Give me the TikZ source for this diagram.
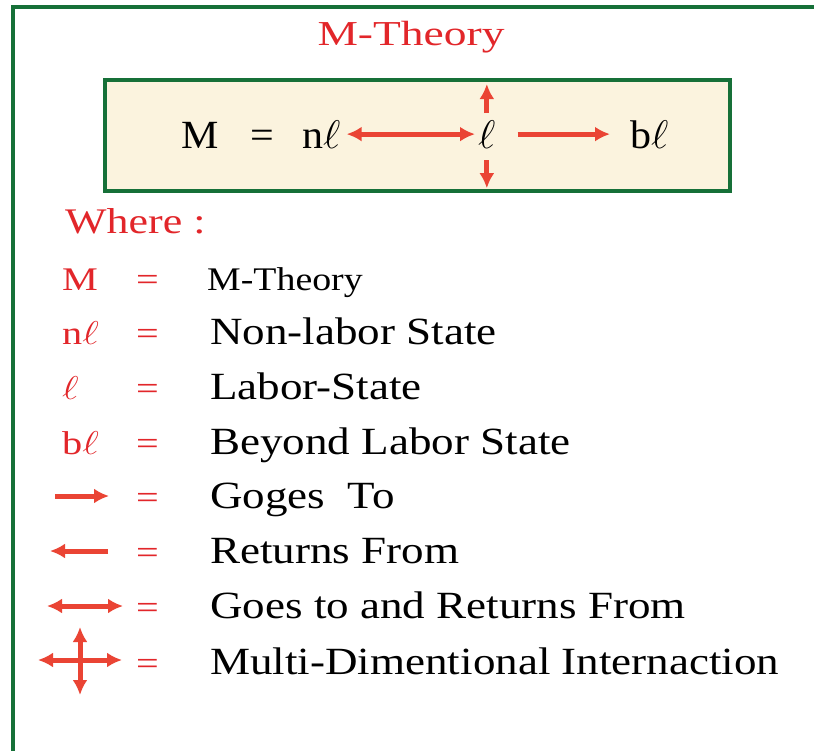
\documentclass[tikz,border=0pt]{standalone}
\usepackage{graphicx}
\usepackage{fontspec}
\setmainfont{Liberation Serif}
\newcommand{\lsym}{\resizebox{!}{.694em}{$\ell$}}
\usetikzlibrary{arrows.meta}
\definecolor{mred}{RGB}{226,38,42}
\definecolor{ared}{RGB}{234,68,52}
\definecolor{mgreen}{RGB}{22,112,56}
\definecolor{mbeige}{RGB}{251,243,222}

\begin{document}
\begin{tikzpicture}[x=1pt,y=-1pt,>={Latex[length=15pt,width=15pt]},
  big/.style={font=\fontsize{40}{44}\selectfont,inner sep=0pt,anchor=base west,xscale=1.05},
  txt/.style={font=\fontsize{38.5}{42}\selectfont,inner sep=0pt,anchor=base west,xscale=1.17},
  sym/.style={font=\fontsize{33}{36}\selectfont,inner sep=0pt,anchor=base west,xscale=1.22,text=mred},
  arr/.style={ared,line width=5pt}]
\path[use as bounding box,fill=white] (0,0) rectangle (814,750);
% 1. 外框与标题
\draw[mgreen,line width=4pt] (13,770)--(13,6.5)--(830,6.5);
\node[font=\fontsize{35}{38}\selectfont,text=mred,inner sep=0pt,anchor=base,xscale=1.3] (title) at (411,45) {M-Theory};

% 2. 方程框
\draw[mgreen,line width=4.5pt,fill=mbeige] (105,80) rectangle (730,191);
\node[big] (M) at (181,148) {M};
\node[big] (eq) at (250,148) {=};
\node[big] (nl) at (302,148) {n\lsym};
\node[big] (l) at (478,148) {\lsym};
\node[big] (bl) at (630,148) {b\lsym};
\draw[arr,<->,shorten <=6pt,shorten >=3pt] (nl.east)--(nl.east -| l.west);
\draw[arr,->,shorten <=22pt,shorten >=20pt] (l.east)--(l.east -| bl.west);
\path (l.north)++(0,-36) coordinate (lup);
\path (l.south)++(0,40) coordinate (ldown);
\draw[arr,->,shorten <=7pt] (l.north)--(lup);
\draw[arr,->,shorten <=12pt] (l.south)--(ldown);

% 3. 图例
\node[sym,font=\fontsize{36}{40}\selectfont] (where) at (65,233) {Where :};
\foreach \s/\y [count=\i] in {M/290,n\lsym/344.7,\lsym/399.4,b\lsym/454}
  \node[sym] (s\i) at (62,\y) {\s};
\foreach \y [count=\i] in {290,344.7,399.4,454,508.8,563.5,618.2,674}
  \node[sym] (eq\i) at (136,\y) {=};
\node[txt,font=\fontsize{33}{36}\selectfont,xscale=0.98] (d1) at (207,290) {M-Theory};
\node[txt] (d2) at (210,344.7) {Non-labor State};
\node[txt] (d3) at (210,399.4) {Labor-State};
\node[txt] (d4) at (210,454) {Beyond Labor State};
\node[txt] (d5) at (210,508.8) {Goges\ \ To};
\node[txt] (d6) at (210,563.5) {Returns From};
\node[txt] (d7) at (210,618.2) {Goes to and Returns From};
\node[txt] (d8) at (210,674) {Multi-Dimentional Internaction};

% 4. 箭头符号
\coordinate (g0) at (55,496); \coordinate (g1) at (109,496);
\coordinate (r0) at (108,551); \coordinate (r1) at (50,551);
\coordinate (b0) at (47,606); \coordinate (b1) at (123,606);
\coordinate (h0) at (38,660); \coordinate (h1) at (122,660);
\coordinate (v0) at (80,627); \coordinate (v1) at (80,695);
\draw[arr,->] (g0)--(g1);
\draw[arr,->] (r0)--(r1);
\draw[arr,<->] (b0)--(b1);
\draw[arr,<->] (h0)--(h1);
\draw[arr,<->] (v0)--(v1);
\end{tikzpicture}
\end{document}
